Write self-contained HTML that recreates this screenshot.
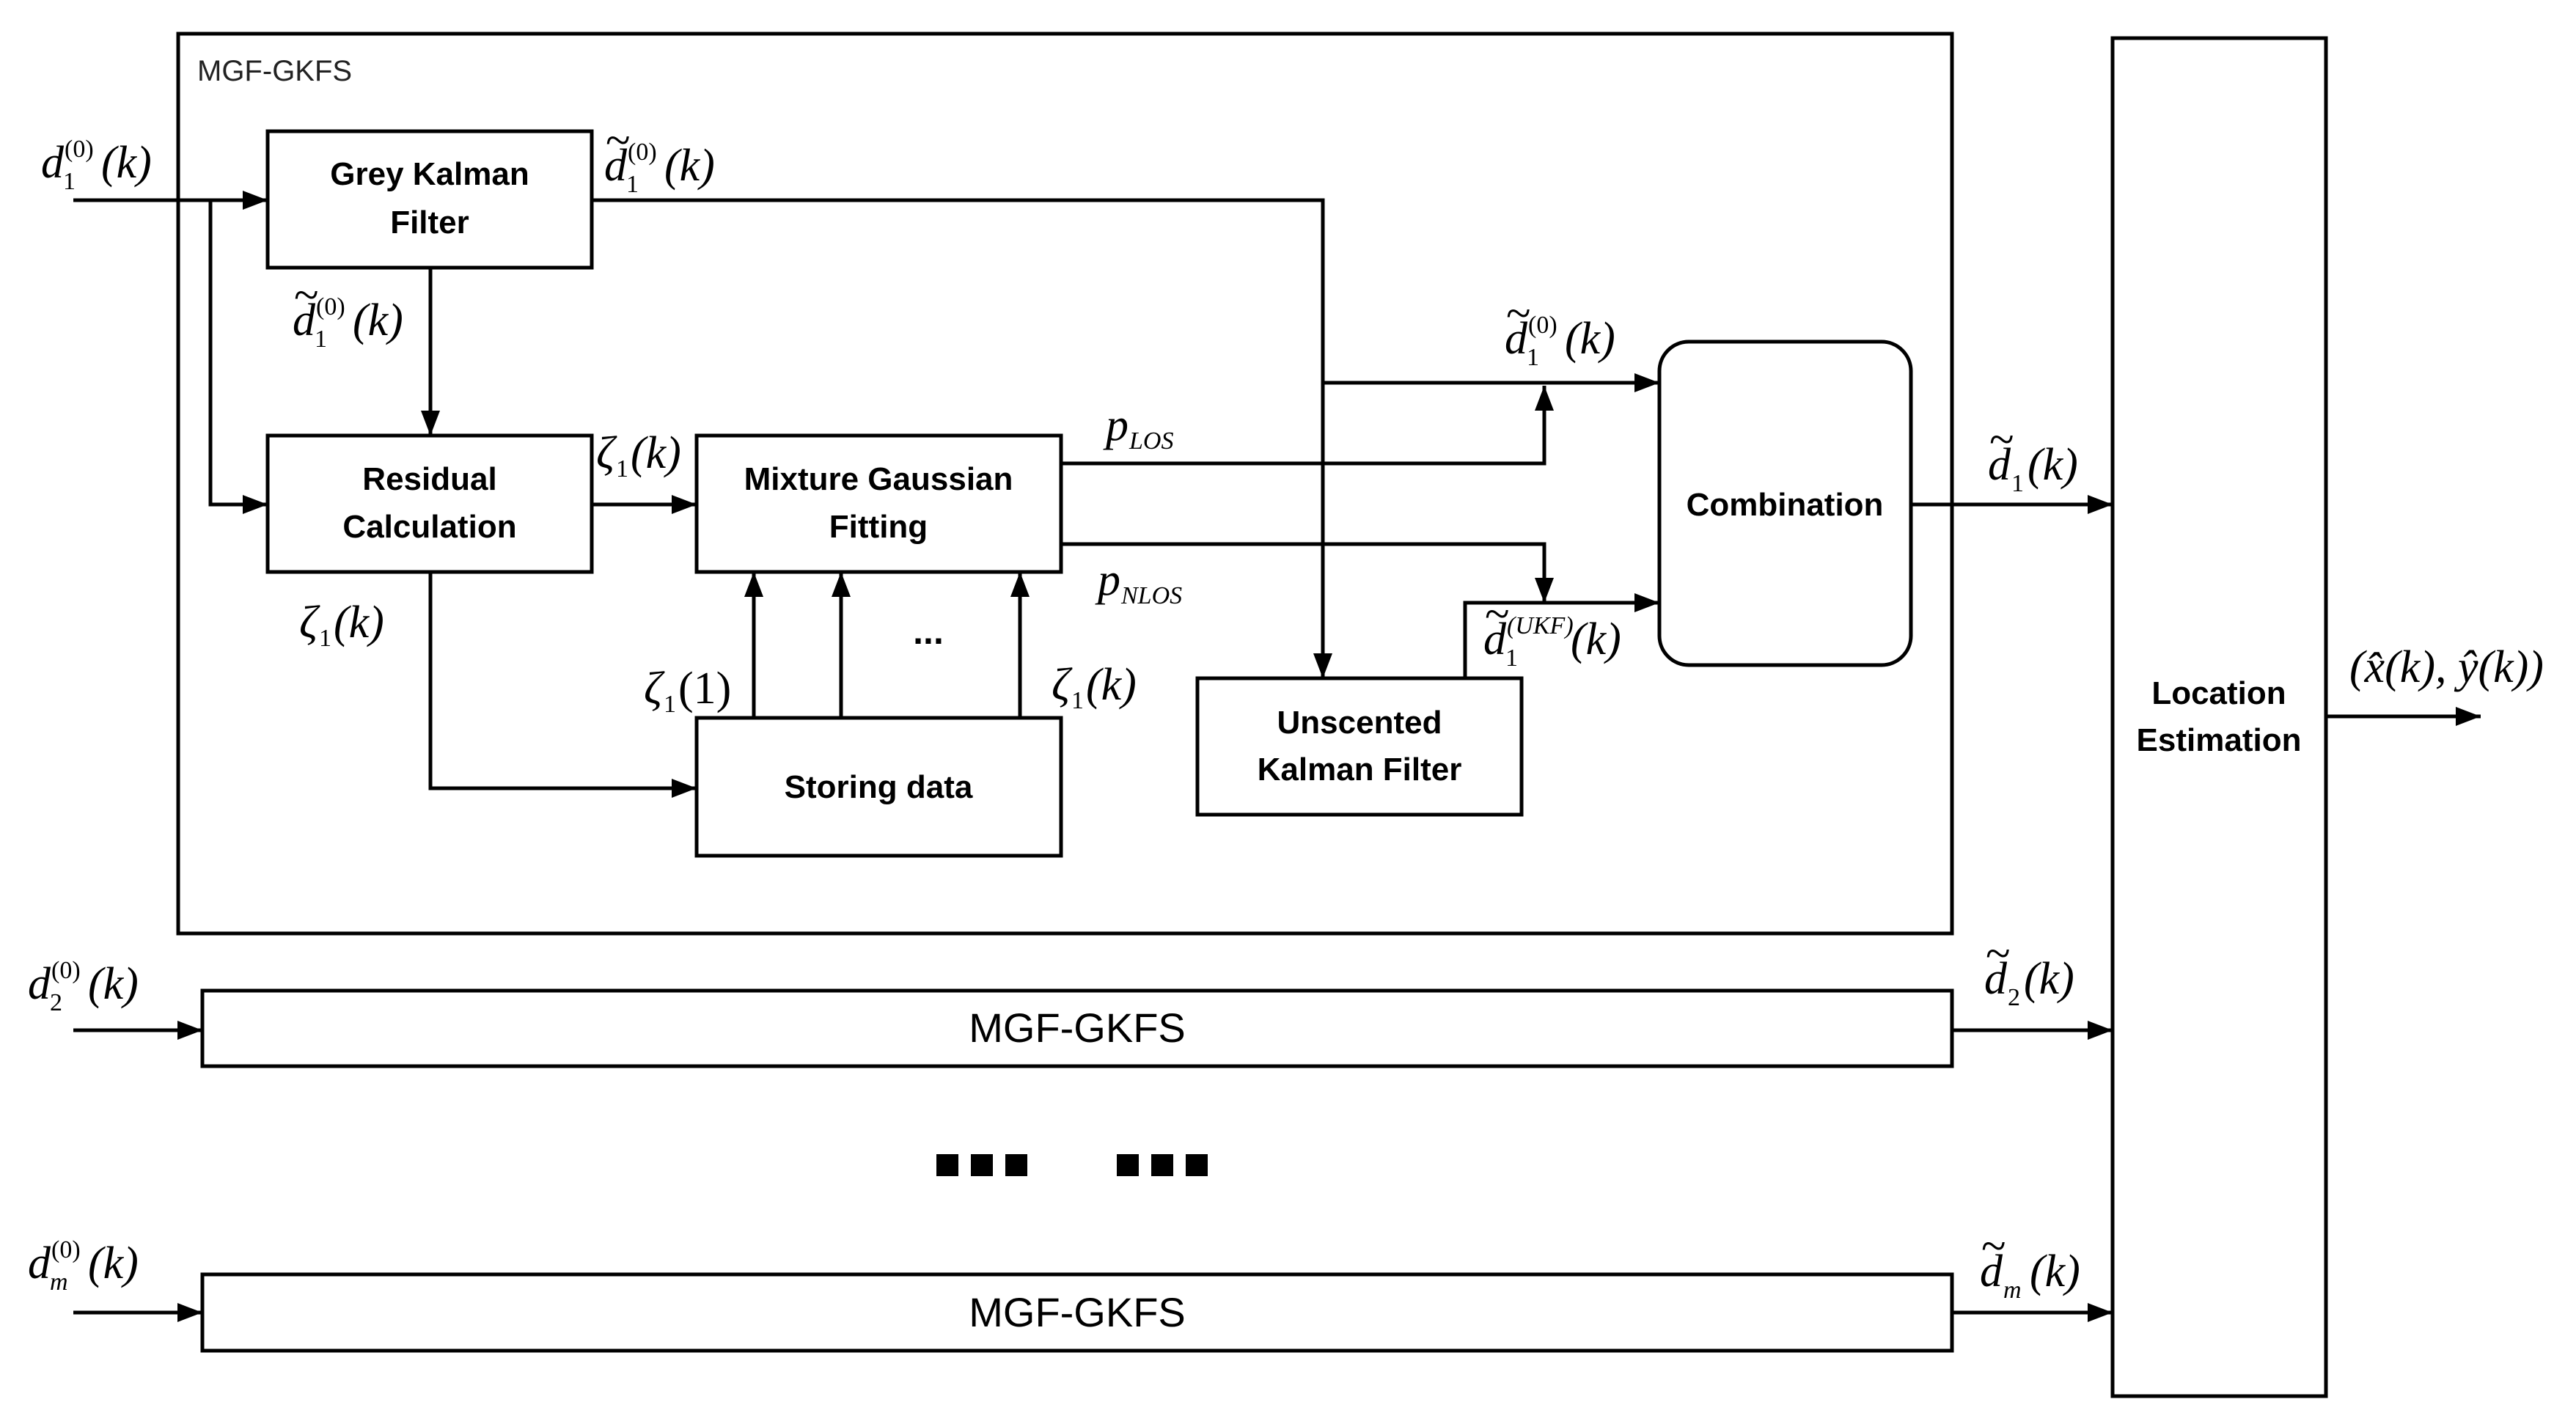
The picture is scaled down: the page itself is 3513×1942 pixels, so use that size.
<!DOCTYPE html>
<html><head><meta charset="utf-8"><style>
html,body{margin:0;padding:0;background:#fff;}
svg{display:block;}
.b{font-family:"Liberation Sans",sans-serif;font-weight:bold;font-size:44px;fill:#000;text-anchor:middle;}
.m{font-family:"Liberation Serif",serif;font-style:italic;font-size:62px;fill:#000;}
.s{font-family:"Liberation Serif",serif;font-style:normal;font-size:34px;fill:#000;}
.si{font-family:"Liberation Serif",serif;font-style:italic;font-size:34px;fill:#000;}
.r{font-family:"Liberation Serif",serif;font-style:normal;font-size:62px;fill:#000;}
</style></head><body>
<svg width="3513" height="1942" viewBox="0 0 3513 1942" xmlns="http://www.w3.org/2000/svg">
<defs>
<marker id="a" markerUnits="userSpaceOnUse" markerWidth="34" markerHeight="26" refX="34" refY="13" orient="auto">
<path d="M0,0 L34,13 L0,26 z" fill="#000"/></marker>
</defs>
<g fill="none" stroke="#000" stroke-width="5">
<rect x="243" y="46" width="2419" height="1227"/>
<rect x="365" y="179" width="442" height="186"/>
<rect x="365" y="594" width="442" height="186"/>
<rect x="950" y="594" width="497" height="186"/>
<rect x="950" y="979" width="497" height="188"/>
<rect x="1633" y="925" width="442" height="186"/>
<rect x="2263" y="466" width="343" height="441" rx="40"/>
<rect x="2881" y="52" width="291" height="1852"/>
<rect x="276" y="1351" width="2386" height="103"/>
<rect x="276" y="1738" width="2386" height="104"/>
</g>
<g fill="none" stroke="#000" stroke-width="5" marker-end="url(#a)">
<path d="M100,273 H365"/>
<path d="M287,273 V688 H365"/>
<path d="M587,365 V594"/>
<path d="M807,688 H950"/>
<path d="M587,780 V1075 H950"/>
<path d="M1028,979 V780"/>
<path d="M1147,979 V780"/>
<path d="M1391,979 V780"/>
<path d="M807,273 H1804 V925"/>
<path d="M1804,522 H2263"/>
<path d="M1447,632 H2106 V526"/>
<path d="M1447,742 H2106 V822"/>
<path d="M1998,925 V822 H2263"/>
<path d="M2606,688 H2881"/>
<path d="M3172,977 H3383"/>
<path d="M100,1405 H276"/>
<path d="M2662,1405 H2881"/>
<path d="M100,1790 H276"/>
<path d="M2662,1790 H2881"/>
</g>
<g fill="#000">
<rect x="1277" y="1574" width="30" height="30"/><rect x="1324" y="1574" width="30" height="30"/><rect x="1371" y="1574" width="30" height="30"/>
<rect x="1523" y="1574" width="30" height="30"/><rect x="1570" y="1574" width="30" height="30"/><rect x="1617" y="1574" width="30" height="30"/>
</g>
<text x="269" y="110" font-family="Liberation Sans,sans-serif" font-size="40" fill="#222">MGF-GKFS</text>
<text class="b" x="586" y="252">Grey Kalman</text><text class="b" x="586" y="318">Filter</text>
<text class="b" x="586" y="668">Residual</text><text class="b" x="586" y="733">Calculation</text>
<text class="b" x="1198" y="668">Mixture Gaussian</text><text class="b" x="1198" y="733">Fitting</text>
<text class="b" x="1198" y="1088">Storing data</text>
<text class="b" x="1854" y="1000">Unscented</text><text class="b" x="1854" y="1064">Kalman Filter</text>
<text class="b" x="2434" y="703">Combination</text>
<text class="b" x="3026" y="960">Location</text><text class="b" x="3026" y="1024">Estimation</text>
<text x="1469" y="1421" font-family="Liberation Sans,sans-serif" font-size="56" text-anchor="middle">MGF-GKFS</text>
<text x="1469" y="1809" font-family="Liberation Sans,sans-serif" font-size="56" text-anchor="middle">MGF-GKFS</text>
<text x="1266" y="878" font-family="Liberation Sans,sans-serif" font-weight="bold" font-size="50" text-anchor="middle">...</text>
<g>
<text class="m" x="56" y="242">d</text><text class="s" x="88" y="214">(0)</text><text class="s" x="86" y="258">1</text><text class="m" x="138" y="242">(k)</text>
<text class="m" x="824" y="246">d</text><text class="r" x="826" y="212" font-size="44">~</text><text class="s" x="856" y="218">(0)</text><text class="s" x="854" y="262">1</text><text class="m" x="906" y="246">(k)</text>
<text class="m" x="399" y="457">d</text><text class="r" x="401" y="423" font-size="44">~</text><text class="s" x="431" y="429">(0)</text><text class="s" x="429" y="473">1</text><text class="m" x="481" y="457">(k)</text>
<text class="m" x="813" y="638">ζ</text><text class="s" x="840" y="650">1</text><text class="m" x="860" y="638">(k)</text>
<text class="m" x="408" y="869">ζ</text><text class="s" x="435" y="881">1</text><text class="m" x="455" y="869">(k)</text>
<text class="m" x="878" y="959">ζ</text><text class="s" x="905" y="971">1</text><text class="r" x="925" y="959">(1)</text>
<text class="m" x="1434" y="954">ζ</text><text class="s" x="1461" y="966">1</text><text class="m" x="1481" y="954">(k)</text>
<text class="m" x="1508" y="600">p</text><text class="si" x="1540" y="612">LOS</text>
<text class="m" x="1497" y="811">p</text><text class="si" x="1529" y="823">NLOS</text>
<text class="m" x="2052" y="482">d</text><text class="r" x="2054" y="448" font-size="44">~</text><text class="s" x="2084" y="454">(0)</text><text class="s" x="2082" y="498">1</text><text class="m" x="2134" y="482">(k)</text>
<text class="m" x="2023" y="892">d</text><text class="r" x="2025" y="858" font-size="44">~</text><text class="si" x="2055" y="864">(UKF)</text><text class="s" x="2053" y="908">1</text><text class="m" x="2142" y="892">(k)</text>
<text class="m" x="2711" y="654">d</text><text class="r" x="2713" y="620" font-size="44">~</text><text class="s" x="2743" y="670">1</text><text class="m" x="2765" y="654">(k)</text>
<text class="m" x="38" y="1362">d</text><text class="s" x="70" y="1334">(0)</text><text class="s" x="68" y="1378">2</text><text class="m" x="120" y="1362">(k)</text>
<text class="m" x="2706" y="1355">d</text><text class="r" x="2708" y="1321" font-size="44">~</text><text class="s" x="2738" y="1371">2</text><text class="m" x="2760" y="1355">(k)</text>
<text class="m" x="38" y="1743">d</text><text class="s" x="70" y="1715">(0)</text><text class="si" x="68" y="1759">m</text><text class="m" x="120" y="1743">(k)</text>
<text class="m" x="2700" y="1754">d</text><text class="r" x="2702" y="1720" font-size="44">~</text><text class="si" x="2732" y="1770">m</text><text class="m" x="2768" y="1754">(k)</text>
<text class="m" x="3204" y="930">(x̂(k), ŷ(k))</text>
</g>
</svg>
</body></html>
